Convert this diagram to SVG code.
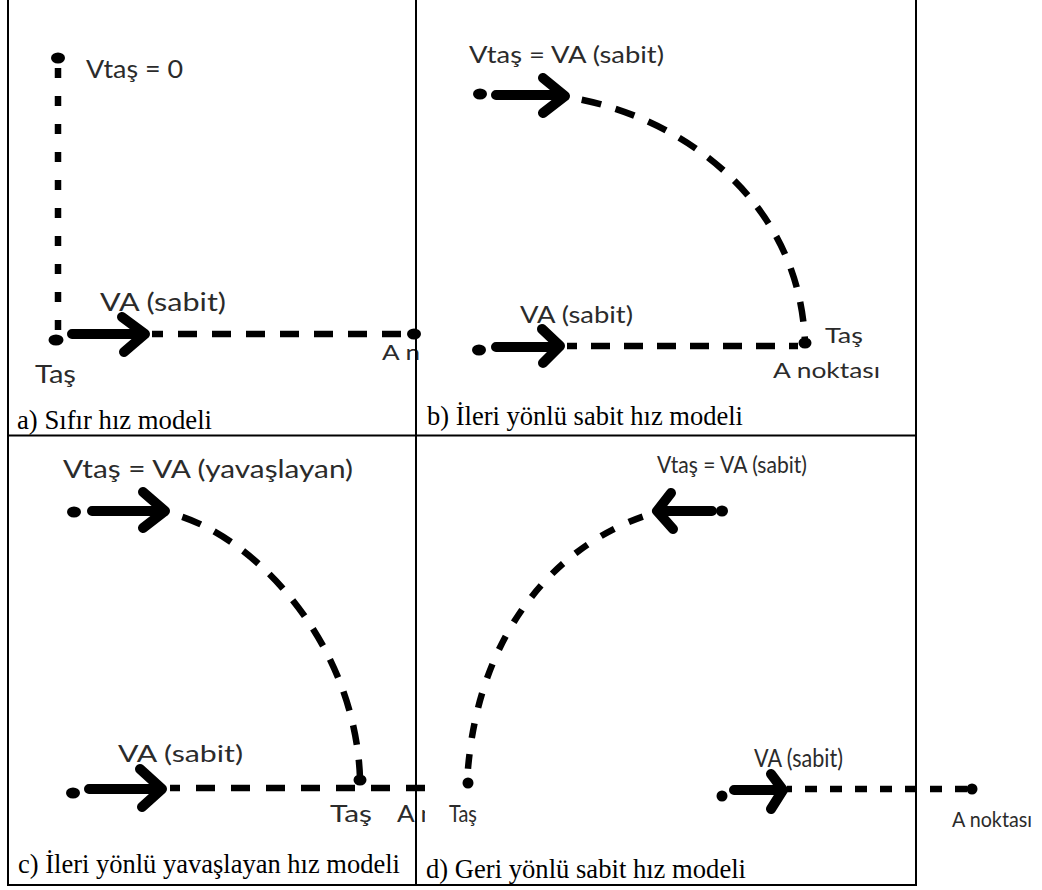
<svg xmlns="http://www.w3.org/2000/svg" width="1042" height="890" viewBox="0 0 1042 890">
<style>
.lbl{font-family:Lato,"Open Sans","Liberation Sans",sans-serif;fill:#2b2b2b}
.cap{font-family:"Liberation Serif","Times New Roman",serif;fill:#000;font-size:26.5px}
.dash{fill:none;stroke:#000;stroke-width:6.5;stroke-linecap:butt}
.arr{fill:none;stroke:#000;stroke-width:10;stroke-linecap:round;stroke-linejoin:round}
.dot{fill:#000}
.grid{stroke:#000;stroke-width:2;fill:none}
</style>
<defs>
<clipPath id="clipA"><rect x="0" y="0" width="424" height="435"/></clipPath>
<clipPath id="clipC"><rect x="0" y="436" width="425" height="454"/></clipPath>
</defs>
<rect width="1042" height="890" fill="#fff"/>

<g id="panel-a" clip-path="url(#clipA)">
  <g id="a-stone">
    <ellipse class="dot" cx="58" cy="58" rx="7" ry="5.5"/>
    <ellipse class="dot" cx="56" cy="340" rx="7.5" ry="5.5"/>
    <text class="lbl" x="35" y="383" font-size="25" textLength="41" lengthAdjust="spacingAndGlyphs">Taş</text>
    <text class="lbl" x="86" y="78" font-size="25" textLength="97" lengthAdjust="spacingAndGlyphs">Vtaş = 0</text>
  </g>
  <g id="a-point">
    <path class="arr" d="M72,334 H143 M122,317 L145,334 L124,352"/>
    <text class="lbl" x="100" y="311" font-size="25.5" textLength="126" lengthAdjust="spacingAndGlyphs">VA (sabit)</text>
    <ellipse class="dot" cx="414" cy="334" rx="7" ry="5.5"/>
    <text class="lbl" x="382" y="360" font-size="21" textLength="38" lengthAdjust="spacingAndGlyphs">A n</text>
  </g>
  <g id="a-connectors">
    <line class="dash" x1="58" y1="68" x2="58" y2="330" stroke-dasharray="10 18"/>
    <line class="dash" x1="152" y1="334" x2="407" y2="334" stroke-dasharray="19 15" stroke-dashoffset="8"/>
  </g>
</g>

<g id="panel-b">
  <g id="b-stone">
    <ellipse class="dot" cx="480" cy="94" rx="7" ry="5.5"/>
    <path class="arr" d="M496,95 H562 M543,78 L565,96 L543,113"/>
    <text class="lbl" x="469" y="63" font-size="23" textLength="195" lengthAdjust="spacingAndGlyphs">Vtaş = VA (sabit)</text>
  </g>
  <g id="b-point">
    <ellipse class="dot" cx="479" cy="350" rx="7" ry="5.5"/>
    <path class="arr" d="M496,347 H557 M542,329 L560,346 L543,363"/>
    <text class="lbl" x="520" y="323" font-size="23" textLength="113" lengthAdjust="spacingAndGlyphs">VA (sabit)</text>
    <ellipse class="dot" cx="805" cy="343" rx="6.5" ry="5.5"/>
    <text class="lbl" x="825" y="343" font-size="21" textLength="38" lengthAdjust="spacingAndGlyphs">Taş</text>
    <text class="lbl" x="773" y="378" font-size="21" textLength="107" lengthAdjust="spacingAndGlyphs">A noktası</text>
  </g>
  <g id="b-connectors">
    <path class="dash" d="M567,97 C680,115 800,200 805,343" stroke-dasharray="20 15" stroke-dashoffset="20"/>
    <line class="dash" x1="567" y1="346" x2="798" y2="346" stroke-dasharray="19 14" stroke-dashoffset="9"/>
  </g>
</g>

<g id="panel-c" clip-path="url(#clipC)">
  <g id="c-stone">
    <ellipse class="dot" cx="74" cy="512" rx="7" ry="5.5"/>
    <path class="arr" d="M92,511 H162 M143,492 L165,511 L143,528"/>
    <text class="lbl" x="63" y="478" font-size="25.5" textLength="290" lengthAdjust="spacingAndGlyphs">Vtaş = VA (yavaşlayan)</text>
  </g>
  <g id="c-point">
    <ellipse class="dot" cx="73" cy="793" rx="7" ry="5.5"/>
    <path class="arr" d="M89,789 H159 M140,769 L162,789 L142,807"/>
    <text class="lbl" x="118" y="762" font-size="23" textLength="125" lengthAdjust="spacingAndGlyphs">VA (sabit)</text>
    <ellipse class="dot" cx="360" cy="780" rx="6.5" ry="5.5"/>
    <text class="lbl" x="330" y="822" font-size="23" textLength="42" lengthAdjust="spacingAndGlyphs">Taş</text>
    <text class="lbl" x="397" y="822" font-size="23" textLength="38" lengthAdjust="spacingAndGlyphs">A n</text>
  </g>
  <g id="c-connectors">
    <path class="dash" d="M165,512 C250,530 355,640 360,778" stroke-dasharray="20 15" stroke-dashoffset="17"/>
    <line class="dash" x1="170" y1="788" x2="430" y2="788" stroke-dasharray="19 16" stroke-dashoffset="9"/>
  </g>
</g>

<g id="panel-d">
  <g id="d-stone">
    <ellipse class="dot" cx="722" cy="511" rx="6" ry="5.5"/>
    <path class="arr" d="M712,511 H660 M671,493 L657,511 L673,529"/>
    <text class="lbl" x="657" y="473" font-size="23" textLength="150" lengthAdjust="spacingAndGlyphs">Vtaş = VA (sabit)</text>
    <ellipse class="dot" cx="468" cy="783" rx="5.5" ry="5.5"/>
    <text class="lbl" x="449" y="822" font-size="23" textLength="28" lengthAdjust="spacingAndGlyphs">Taş</text>
  </g>
  <g id="d-point">
    <ellipse class="dot" cx="722" cy="796" rx="5.5" ry="5.5"/>
    <path class="arr" d="M734,790 H780 M771,774 L783,790 L771,809"/>
    <text class="lbl" x="754" y="767" font-size="25" textLength="89" lengthAdjust="spacingAndGlyphs">VA (sabit)</text>
    <ellipse class="dot" cx="972" cy="789" rx="5.5" ry="5.5"/>
    <text class="lbl" x="952" y="827" font-size="21" textLength="80" lengthAdjust="spacingAndGlyphs">A noktası</text>
  </g>
  <g id="d-connectors">
    <path class="dash" d="M657,512 C560,540 475,630 467,783" stroke-dasharray="15 16" stroke-dashoffset="16"/>
    <line class="dash" x1="787" y1="789" x2="968" y2="789" stroke-dasharray="12 13" stroke-dashoffset="7"/>
  </g>
</g>

<g id="captions">
  <text class="cap" x="17" y="429" textLength="195" lengthAdjust="spacingAndGlyphs">a) Sıfır hız modeli</text>
  <text class="cap" x="427" y="425" textLength="316" lengthAdjust="spacingAndGlyphs">b) İleri yönlü sabit hız modeli</text>
  <text class="cap" x="18" y="873" textLength="382" lengthAdjust="spacingAndGlyphs">c) İleri yönlü yavaşlayan hız modeli</text>
  <text class="cap" x="426" y="878" textLength="320" lengthAdjust="spacingAndGlyphs">d) Geri yönlü sabit hız modeli</text>
</g>

<g id="table-grid">
  <path class="grid" d="M8,0 V886 M416,0 V886 M916,0 V886 M8,435.5 H916 M8,885 H916"/>
</g>
</svg>
